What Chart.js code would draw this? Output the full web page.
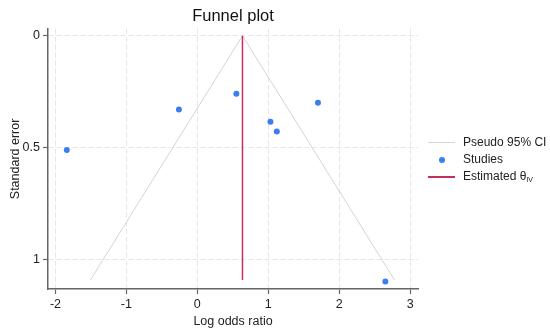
<!DOCTYPE html>
<html>
<head>
<meta charset="utf-8">
<script src="https://cdn.jsdelivr.net/npm/chart.js@4"></script>
<style>
  body { margin: 0; background: #fff; }
  #wrap { position: relative; width: 550px; height: 334px; }
  #legend { position: absolute; left: 428px; top: 134px; font: 12px "Liberation Sans", Arial, sans-serif; color: #222; }
  #legend div.row { height: 17px; line-height: 17px; white-space: nowrap; }
  #legend span.key { display: inline-block; width: 27px; height: 17px; vertical-align: top; position: relative; margin-right: 8px; }
  #legend span.line { position: absolute; left: 0; width: 27px; top: 8px; display: block; }
  #legend span.dot { position: absolute; left: 11px; top: 6px; width: 6px; height: 6px; border-radius: 50%; background: #3c7ef0; }
  #legend sub { font-size: 7px; vertical-align: baseline; position: relative; top: 2px; }
</style>
</head>
<body>
<div id="wrap">
  <canvas id="chart" width="550" height="334"></canvas>
  <div id="legend">
    <div class="row"><span class="key"><span class="line" style="height:1px;background:#d4d4d4"></span></span>Pseudo 95% CI</div>
    <div class="row"><span class="key"><span class="dot"></span></span>Studies</div>
    <div class="row"><span class="key"><span class="line" style="height:2px;background:#c4305a"></span></span>Estimated θ<sub>IV</sub></div>
  </div>
</div>
<script>
// studies (log odds ratio, standard error)
const studyX = [-1.84, -0.26, 0.55, 1.03, 1.12, 1.70, 2.65];
const studySE = [0.512, 0.330, 0.260, 0.385, 0.429, 0.300, 1.100];

// pooled estimate and pseudo 95% CI funnel
const thetaIV = 0.636;
const funnelX = [-1.508, 0.636, 2.78];
const funnelSE = [1.094, 0, 1.094];
const thetaSE = [0, 1.094];

const xTicks = [-2, -1, 0, 1, 2, 3];
const yTicks = [0, 0.5, 1];

const fontFamily = '"Liberation Sans", Arial, sans-serif';

let studies = studyX.map((x, i) => ({x: x, y: studySE[i]}));
let funnel = funnelX.map((x, i) => ({x: x, y: funnelSE[i]}));
let theta = thetaSE.map(se => ({x: thetaIV, y: se}));

new Chart(document.getElementById('chart'), {
  type: 'scatter',
  data: {
    datasets: [
      {label: 'Pseudo 95% CI', data: funnel, showLine: true, borderColor: '#d4d4d4', borderWidth: 1, pointRadius: 0, order: 3},
      {label: 'Studies', data: studies, pointRadius: 3, pointBackgroundColor: '#3c7ef0', pointBorderWidth: 0, order: 1},
      {label: 'Estimated θIV', data: theta, showLine: true, borderColor: '#c4305a', borderWidth: 1.5, pointRadius: 0, order: 2}
    ]
  },
  options: {
    responsive: false,
    animation: false,
    layout: {padding: {left: 0, right: 132, top: 0, bottom: 0}},
    plugins: {
      legend: {display: false},
      tooltip: {enabled: false},
      title: {
        display: true,
        text: 'Funnel plot',
        fullSize: false,
        color: '#111',
        font: {family: fontFamily, size: 16.5, weight: 'normal'},
        padding: {top: 7, bottom: 2}
      }
    },
    scales: {
      x: {
        type: 'linear',
        min: -2.105,
        max: 3.11,
        afterBuildTicks: s => { s.ticks = xTicks.map(v => ({value: v})); },
        afterFit: s => { s.height = 45; },
        grid: {color: '#e6e6e6', lineWidth: 1, tickLength: 5, tickColor: '#666', tickWidth: 1.2},
        border: {color: '#666', width: 1.5, dash: [5, 3]},
        ticks: {color: '#222', font: {family: fontFamily, size: 12.5}, padding: 3},
        title: {display: true, text: 'Log odds ratio', color: '#222', font: {family: fontFamily, size: 12.5}, padding: {top: 0, bottom: 5}}
      },
      y: {
        type: 'linear',
        reverse: true,
        min: -0.031,
        max: 1.134,
        afterBuildTicks: s => { s.ticks = yTicks.map(v => ({value: v})); },
        afterFit: s => { s.width = 48; },
        grid: {color: '#e6e6e6', lineWidth: 1, tickLength: 5, tickColor: '#666', tickWidth: 1.2},
        border: {color: '#666', width: 1.5, dash: [5, 3]},
        ticks: {color: '#222', font: {family: fontFamily, size: 12.5}, padding: 3, callback: v => String(v)},
        title: {display: true, text: 'Standard error', color: '#222', font: {family: fontFamily, size: 12.5}, padding: {top: 8, bottom: 0}}
      }
    }
  }
});
</script>
</body>
</html>
